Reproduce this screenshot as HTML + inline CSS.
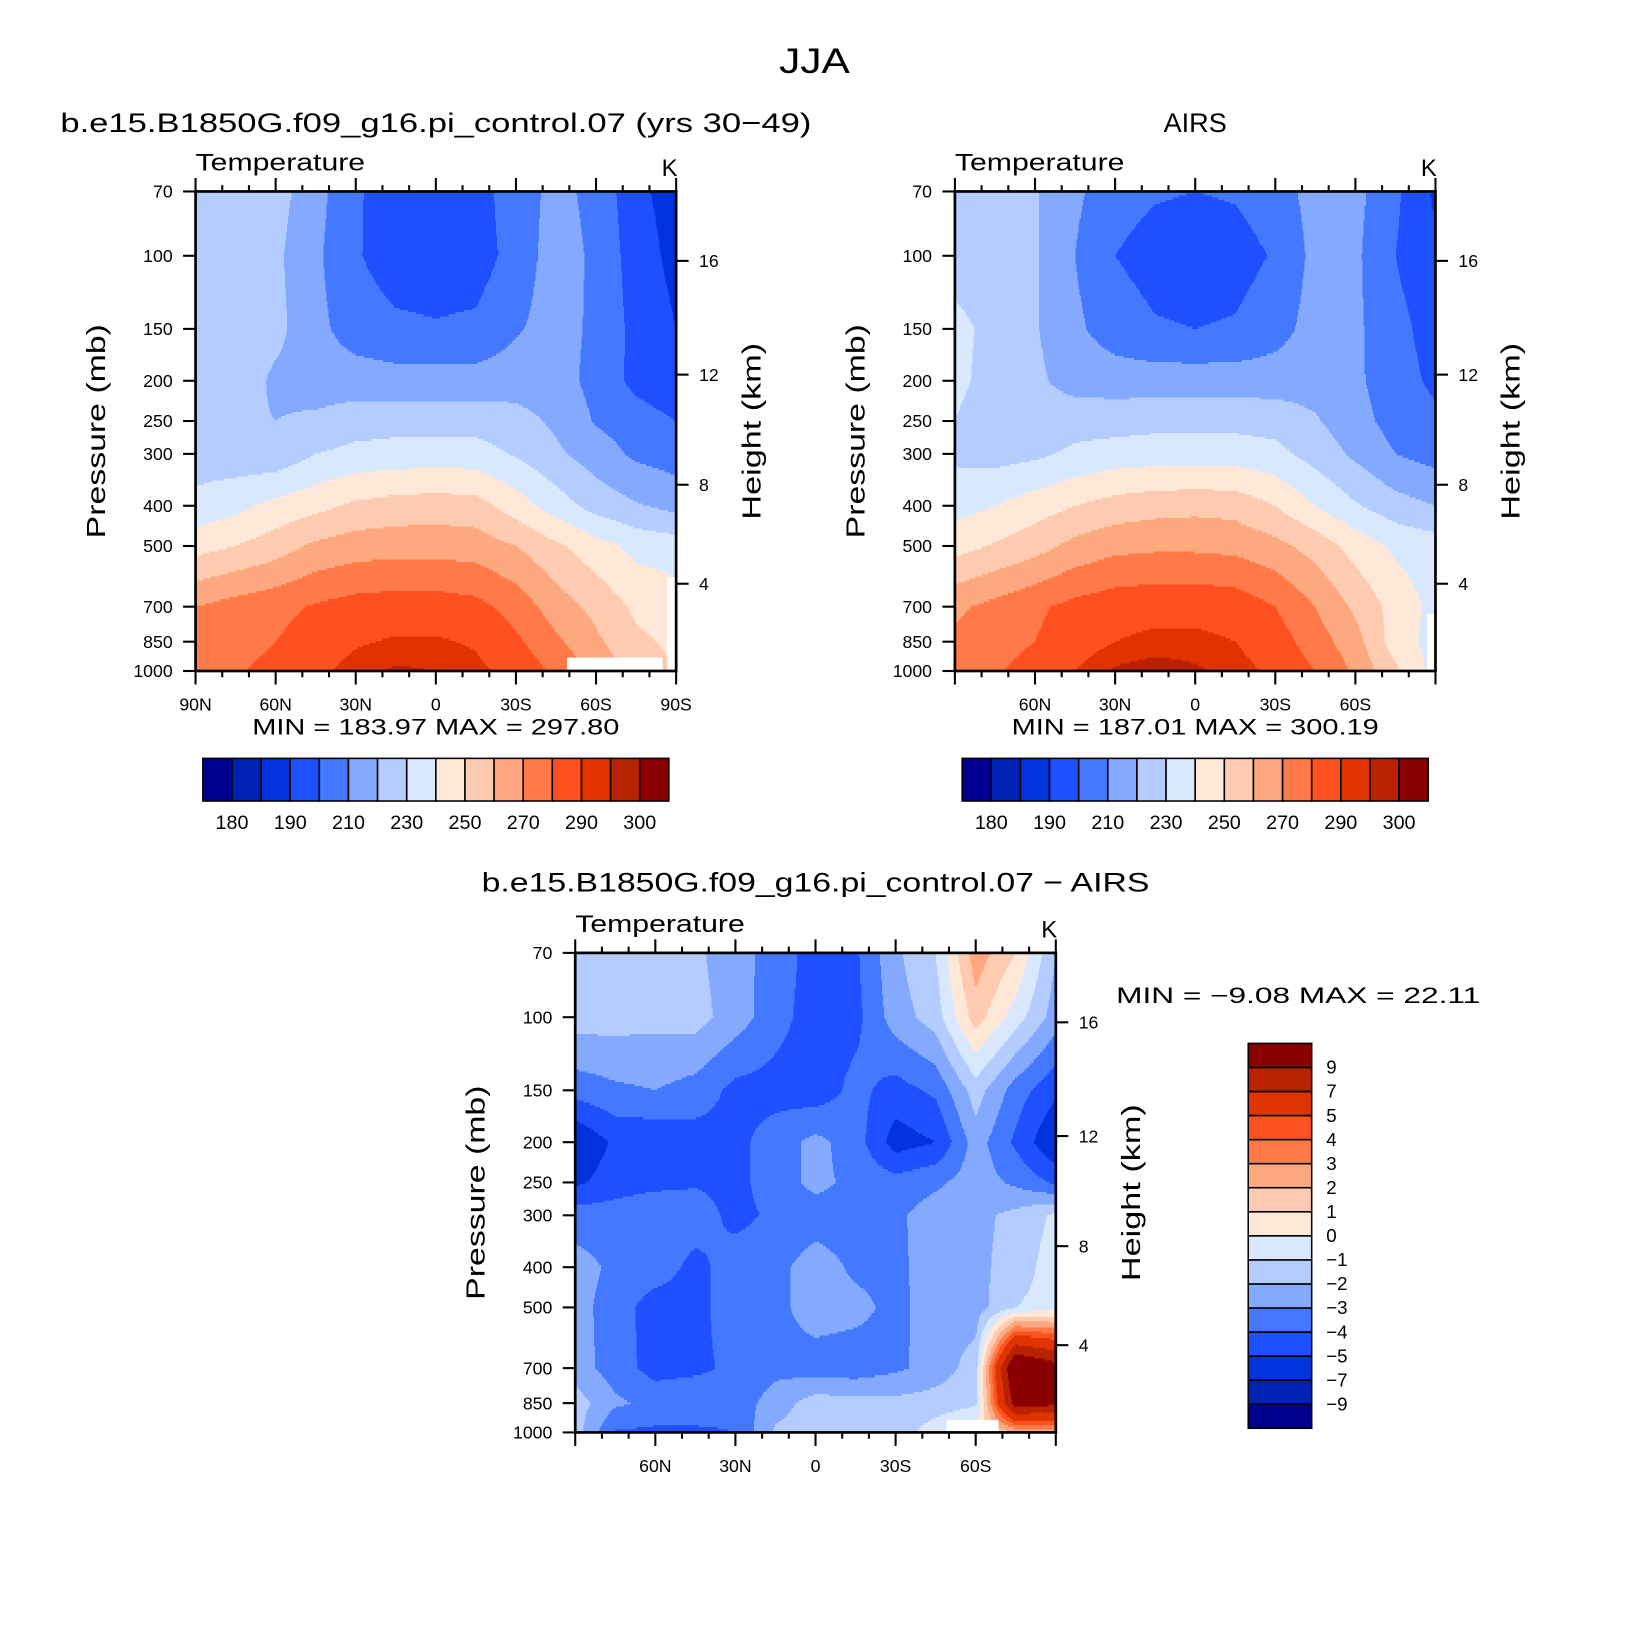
<!DOCTYPE html>
<html><head><meta charset="utf-8"><title>JJA Temperature</title>
<style>html,body{margin:0;padding:0;background:#fff;}svg{display:block;font-family:"Liberation Sans",sans-serif;}</style>
</head><body>
<svg id="fig" xmlns="http://www.w3.org/2000/svg" width="1630" height="1627" viewBox="0 0 1567 1564">
<rect x="0" y="0" width="1567" height="1564" fill="#fff"/>
<text x="783" y="70" font-size="34" text-anchor="middle" textLength="68" lengthAdjust="spacingAndGlyphs">JJA</text>
<text x="419" y="127" font-size="26" text-anchor="middle" textLength="722" lengthAdjust="spacingAndGlyphs">b.e15.B1850G.f09_g16.pi_control.07 (yrs 30−49)</text>
<text x="1149" y="127" font-size="26" text-anchor="middle">AIRS</text>
<text x="784" y="857" font-size="26" text-anchor="middle" textLength="642" lengthAdjust="spacingAndGlyphs">b.e15.B1850G.f09_g16.pi_control.07 − AIRS</text>
<text x="419" y="706" font-size="21" text-anchor="middle" textLength="353" lengthAdjust="spacingAndGlyphs">MIN =  183.97   MAX =  297.80</text>
<text x="1149" y="706" font-size="21" text-anchor="middle" textLength="353" lengthAdjust="spacingAndGlyphs">MIN =  187.01   MAX =  300.19</text>
<text x="1248" y="964" font-size="21" text-anchor="middle" textLength="350" lengthAdjust="spacingAndGlyphs">MIN =   −9.08   MAX =   22.11</text>
<g id="layers"></g>
</svg>
<script>
// ---- data ----
const lats = [90, 75, 60, 45, 30, 15, 0, -15, -30, -45, -60, -75, -90];
const pressures = [70, 100, 150, 200, 250, 300, 400, 500, 700, 850, 1000];
const tempLevels = [180, 185, 190, 200, 210, 220, 230, 240, 250, 260, 270, 280, 290, 295, 300];
const tempBarLabels = ["180", "190", "210", "230", "250", "270", "290", "300"];
const diffLevels = [-9, -7, -5, -4, -3, -2, -1, 0, 1, 2, 3, 4, 5, 7, 9];
const diffBarLabels = ["9", "7", "5", "4", "3", "2", "1", "0", "−1", "−2", "−3", "−4", "−5", "−7", "−9"];
const latTickLabels = ["90N", "60N", "30N", "0", "30S", "60S", "90S"];
const pressTickValues = [70, 100, 150, 200, 250, 300, 400, 500, 700, 850, 1000];
const heightTickValues = [4, 8, 12, 16];
const modelT = [
 [227,226,224,214,201,196,195,196,205,213,207,193,185],
 [227,227,222,212,201,195,194,195,204,215,208,195,187],
 [228,227,223,213,205,202,201,202,209,214,208,197,190],
 [228,226,218,215,215,214,214,214,215,214,207,197,192],
 [226,222,220,222,225,226,226,226,224,218,209,205,200],
 [225,224,223,230,233,234,234,234,229,222,215,208,205],
 [233,237,243,247,252,254,255,254,245,235,226,221,217],
 [246,250,255,262,265,266,266,265,260,252,244,237,235],
 [270,274,277,281,284,285,285,283,276,265,257,248,245],
 [274,276,280,285,289,291,291,289,282,272,262,252,248],
 [275,279,283,288,293,296,295,292,287,278,268,255,250]
];
const airsT = [
 [227,224,221,212,204,201,200,201,205,214,213,202,188],
 [227,225,221,210,200,196,195,196,201,213,212,200,192],
 [232,228,221,212,205,201,200,201,206,214,212,203,196],
 [232,227,222,216,215,215,215,215,215,216,212,204,198],
 [230,225,224,226,226,227,227,227,226,221,214,206,202],
 [228,226,228,232,234,235,235,235,233,226,218,210,206],
 [236,240,245,250,254,256,257,256,250,240,231,224,220],
 [246,251,256,263,267,268,268,267,263,256,246,238,235],
 [268,273,278,283,286,287,287,286,280,270,258,246,237],
 [272,276,280,286,290,292,292,290,285,275,264,245,236],
 [275,279,284,290,296,298,296,293,288,280,268,252,236]
];
const diffT = [
 [-1.5,-1.5,-1.5,-1.8,-2.6,-3.4,-4.5,-4.2,-2.2,-1.0,2.6,1.0,-2.0],
 [-1.5,-1.6,-1.7,-1.6,-2.5,-3.6,-4.5,-4.3,-2.5,-1.5,1.5,-0.5,-2.5],
 [-3.6,-3.2,-3.0,-3.4,-4.3,-4.4,-4.6,-3.7,-4.4,-3.8,-1.5,-3.5,-4.8],
 [-6.0,-4.8,-4.8,-4.5,-4.3,-3.5,-2.7,-3.5,-5.5,-5.0,-2.5,-4.2,-6.0],
 [-5.2,-4.5,-4.3,-4.1,-4.3,-3.5,-2.7,-3.3,-3.6,-3.2,-2.5,-3.2,-4.2],
 [-3.5,-3.5,-3.2,-3.5,-4.3,-3.8,-3.5,-3.5,-3.2,-2.5,-2.3,-1.7,-0.8],
 [-2.6,-3.2,-3.5,-4.3,-3.5,-3.3,-2.5,-3.2,-3.3,-2.4,-2.3,-1.5,-0.5],
 [-2.6,-3.5,-4.5,-4.3,-3.5,-3.3,-2.5,-2.7,-3.3,-2.5,-2.5,-1.0,-0.6],
 [-2.5,-3.5,-4.4,-4.2,-3.8,-3.3,-3.5,-3.6,-3.2,-2.6,-1.5,12.0,10.0],
 [-1.5,-2.8,-3.3,-3.3,-3.6,-2.5,-1.5,-1.6,-1.7,-1.5,-1.2,10.0,9.5],
 [-1.5,-4.1,-4.2,-4.2,-4.0,-1.8,-1.5,-1.5,-1.5,-0.5,0.5,2.0,2.0]
];
// ---- style ----
const palette = ["#000090","#0022b4","#0033dd","#1e50ff","#4478ff","#84aaff","#b4ccff","#d8e8ff",
 "#ffe8d8","#fecab0","#fea880","#ff7a48","#ff5020","#e03300","#b82200","#8a0000"];
const NS = "http://www.w3.org/2000/svg";
const layers = document.getElementById("layers");
function mk(tag, parent, attrs) {
  const e = document.createElementNS(NS, tag);
  for (const k in attrs) e.setAttribute(k, attrs[k]);
  parent.appendChild(e);
  return e;
}
function levelIndex(v, levels) { let n = 0; for (const l of levels) if (v >= l) n++; return n; }
function yOfP(p, y0, y1) { return y0 + (Math.log(p) - Math.log(70)) / (Math.log(1000) - Math.log(70)) * (y1 - y0); }
function xOfLat(lat, x0, x1) { return x0 + (90 - lat) / 180 * (x1 - x0); }
function pOfZ(zkm) { const z = zkm * 1000; return z <= 11000 ? 1013.25 * Math.pow(1 - 2.25577e-5 * z, 5.25588) : 226.32 * Math.exp(-(z - 11000) / 6341.6); }
function sample(vals, lat, lp) {
  let j = 0; while (j < lats.length - 2 && lats[j + 1] > lat) j++;
  const tx = (lats[j] - lat) / (lats[j] - lats[j + 1]);
  let i = 0; while (i < pressures.length - 2 && Math.log(pressures[i + 1]) < lp) i++;
  const ty = (lp - Math.log(pressures[i])) / (Math.log(pressures[i + 1]) - Math.log(pressures[i]));
  const a = vals[i][j] * (1 - tx) + vals[i][j + 1] * tx;
  const b = vals[i + 1][j] * (1 - tx) + vals[i + 1][j + 1] * tx;
  return a * (1 - ty) + b * ty;
}
function drawField(g, vals, levels, x0, x1, y0, y1) {
  const step = 2;
  for (let y = y0; y < y1; y += step) {
    const yc = Math.min(y + step / 2, y1);
    const lp = Math.log(70) + (yc - y0) / (y1 - y0) * (Math.log(1000) - Math.log(70));
    let runStart = x0, runIdx = -1;
    for (let x = x0; x <= x1; x++) {
      let idx = -2;
      if (x < x1) {
        const lat = 90 - (x + 0.5 - x0) / (x1 - x0) * 180;
        idx = levelIndex(sample(vals, lat, lp), levels);
      }
      if (idx !== runIdx) {
        if (runIdx >= 0) {
          const r = mk("rect", g, {x: runStart, y: y, width: x - runStart + 0.4, height: Math.min(step + 0.4, y1 - y), fill: palette[runIdx]});
          
          
        }
        runStart = x; runIdx = idx;
      }
    }
  }
}
function txt(parent, x, y, s, size, anchor, extra) {
  const t = mk("text", parent, Object.assign({x: x, y: y, "font-size": size, "text-anchor": anchor || "start"}, extra || {}));
  t.textContent = s;
  return t;
}
function drawPanel(name, vals, levels, x0, y0, showEndLats, masks) {
  const x1 = x0 + 462, y1 = y0 + 461;
  const g = mk("g", layers, {});
  
  
  const fg = mk("g", g, {"shape-rendering": "crispEdges"});
  
  
  drawField(fg, vals, levels, x0, x1, y0, y1);
  for (const m of masks) {
    const r = mk("rect", fg, {x: m[0], y: m[1], width: m[2], height: m[3], fill: "#fff"});
    
    
  }
  const frame = mk("rect", g, {x: x0, y: y0, width: 462, height: 461, fill: "none", stroke: "#000", "stroke-width": 2.6});
  
  
  const ticks = mk("g", g, {stroke: "#000", "stroke-width": 2});
  
  
  for (let lat = 90; lat >= -90; lat -= 10) {
    const x = xOfLat(lat, x0, x1), major = lat % 30 === 0, L = major ? 13 : 6;
    mk("line", ticks, {x1: x, y1: y0, x2: x, y2: y0 - L});
    mk("line", ticks, {x1: x, y1: y1, x2: x, y2: y1 + L});
  }
  for (const p of pressTickValues) {
    const y = yOfP(p, y0, y1);
    mk("line", ticks, {x1: x0, y1: y, x2: x0 - 12, y2: y});
  }
  for (const z of heightTickValues) {
    const y = yOfP(pOfZ(z), y0, y1);
    mk("line", ticks, {x1: x1, y1: y, x2: x1 + 12, y2: y});
    const t = txt(g, x1 + 22, y + 6, String(z), 17);
    
    
  }
  latTickLabels.forEach((s, k) => {
    if (!showEndLats && (k === 0 || k === latTickLabels.length - 1)) return;
    const t = txt(g, x0 + k * 77, y1 + 38, s, 17, "middle");
    
    
  });
  pressTickValues.forEach(p => {
    const t = txt(g, x0 - 22, yOfP(p, y0, y1) + 6, String(p), 17, "end");
    
    
  });
  const vt = txt(g, x0, y0 - 20, "Temperature", 23, "start", {textLength: 163, lengthAdjust: "spacingAndGlyphs"});
  
  
  const ut = txt(g, x1 - 14, y0 - 15, "K", 23);
  
  
  const cy = (y0 + y1) / 2;
  const pt = txt(g, x0 - 96, cy, "Pressure (mb)", 25, "middle", {transform: `rotate(-90 ${x0 - 96} ${cy})`, dy: 9, textLength: 206, lengthAdjust: "spacingAndGlyphs"});
  
  
  const ht = txt(g, x1 + 72, cy, "Height (km)", 25, "middle", {transform: `rotate(-90 ${x1 + 72} ${cy})`, dy: 9, textLength: 170, lengthAdjust: "spacingAndGlyphs"});
  
  
}
function drawHBar(name, x0, y0) {
  const g = mk("g", layers, {});
  
  
  const w = 448 / palette.length;
  palette.forEach((c, k) => {
    const r = mk("rect", g, {x: x0 + k * w, y: y0, width: w, height: 41, fill: c, stroke: "#000", "stroke-width": 1.5});
    
    
  });
  tempBarLabels.forEach((s, k) => {
    const t = txt(g, x0 + (1 + 2 * k) * w, y0 + 68, s, 19, "middle");
    
    
  });
}
function drawVBar(name, x0, y0) {
  const g = mk("g", layers, {});
  
  
  const h = 370 / palette.length;
  palette.forEach((c, k) => {
    const r = mk("rect", g, {x: x0, y: y0 + (palette.length - 1 - k) * h, width: 61, height: h, fill: c, stroke: "#000", "stroke-width": 1.5});
    
    
  });
  diffBarLabels.forEach((s, k) => {
    const t = txt(g, x0 + 75, y0 + (k + 1) * h + 6, s, 18);
    
    
  });
}
drawPanel("model", modelT, tempLevels, 188, 184, true, [[545, 632, 92, 13], [641, 555, 9, 90]]);
drawPanel("airs", airsT, tempLevels, 918, 184, false, [[1372, 590, 7, 55]]);
drawPanel("difference", diffT, diffLevels, 553, 916, false, [[910, 1365, 50, 12]]);
drawHBar("model-colorbar", 195, 729);
drawHBar("airs-colorbar", 925, 729);
drawVBar("difference-colorbar", 1200, 1003);
</script>
</body></html>
